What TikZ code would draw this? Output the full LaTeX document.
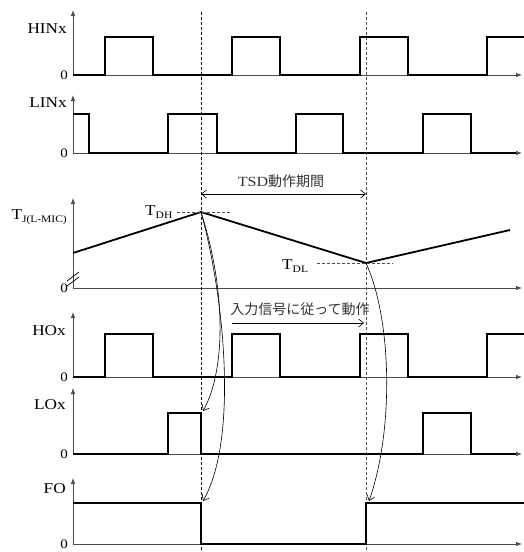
\documentclass[tikz,border=0pt]{standalone}
\usepackage{fontspec}
\setmainfont[FakeStretch=1.15]{Liberation Serif}
\newfontfamily\jpfont{Noto Sans CJK JP}
\usetikzlibrary{arrows.meta}
\begin{document}
\begin{tikzpicture}[x=1pt,y=-1pt,
  axis/.style={line width=0.8pt, black!70, -{Latex[length=6pt,width=4.5pt]}},
  wave/.style={line width=1.8pt, line join=miter},
  vdash/.style={line width=0.7pt, dash pattern=on 3pt off 2pt},
  hdash/.style={line width=0.7pt, black!70, dash pattern=on 3pt off 2pt},
  sig/.style={font=\fontsize{15}{15}\selectfont, anchor=base east, inner sep=0pt},
  zero/.style={font=\fontsize{13}{13}\selectfont, anchor=east, inner sep=0pt},
  note/.style={-{Straight Barb[length=5pt,width=8pt]}, line width=0.6pt},
  jp/.style={font=\fontsize{14}{14}\selectfont, text=black!80, inner sep=0pt},
  lvl/.style={font=\fontsize{15}{15}\selectfont, anchor=base west, inner sep=0pt}
]
\useasboundingbox (0,0) rectangle (524,552);

% ---------- axes ----------
\foreach \yb/\yt in {75/10, 153/95, 288/198, 377/312, 454/388, 544/478}{
  \draw[axis] (73,\yb) -- (73,\yt);
  \draw[axis] (73,\yb) -- (522,\yb);
}

% ---------- labels ----------
\node[sig] (lHIN) at (67,33) {HINx};
\node[sig] (lLIN) at (67,107) {LINx};
\node[sig] (lTJ) at (67,219) {T\raisebox{-3pt}{\fontsize{10}{10}\selectfont J(L-MIC)}};
\node[sig] (lHO) at (66,335) {HOx};
\node[sig] (lLO) at (66,409) {LOx};
\node[sig] (lFO) at (66,493) {FO};

\foreach \yb/\nm in {75/z1, 153/z2, 288/z3, 377/z4, 454/z5, 544/z6}{
  \node[zero] (\nm) at (68,\yb+0.5) {0};
}

% ---------- dashed time markers ----------
\draw[vdash] (201,12) -- (201,551);
\draw[vdash, black!70] (366,12) -- (366,551);

% ---------- waveforms ----------
\draw[wave] (73,75) -- (105,75) -- (105,37) -- (153,37) -- (153,75) -- (232,75) -- (232,37) -- (280,37) -- (280,75)
  -- (360,75) -- (360,37) -- (408,37) -- (408,75) -- (487,75) -- (487,37) -- (524,37);
\draw[wave] (73,114) -- (89,114) -- (89,153) -- (168,153) -- (168,114) -- (217,114) -- (217,153) -- (296,153)
  -- (296,114) -- (343,114) -- (343,153) -- (423,153) -- (423,114) -- (471,114) -- (471,153) -- (516,153);
\draw[wave] (73,377) -- (105,377) -- (105,334) -- (153,334) -- (153,377) -- (232,377) -- (232,334) -- (280,334) -- (280,377)
  -- (360,377) -- (360,334) -- (408,334) -- (408,377) -- (487,377) -- (487,334) -- (524,334);
\draw[wave] (73,454) -- (168,454) -- (168,413) -- (201,413) -- (201,454) -- (423,454) -- (423,413) -- (471,413)
  -- (471,454) -- (516,454);
\draw[wave] (73,503) -- (201,503) -- (201,544) -- (366,544) -- (366,503) -- (524,503);

% ---------- junction temperature ----------
\coordinate (tj0) at (73,253);
\coordinate (pkH) at (201,212);
\coordinate (pkL) at (366,263);
\coordinate (tjE) at (510,230);
\draw[wave] (tj0) -- (pkH) -- (pkL) -- (tjE);

% axis break
\draw[line width=0.7pt] (67,281) -- (79,272);
\draw[line width=0.7pt] (67,286) -- (79,277);

% threshold levels
\draw[hdash] (177,212) -- (232,212);
\draw[hdash] (317,263) -- (393,263);
\node[lvl] (tdh) at (145,215) {T\raisebox{-3pt}{\fontsize{10}{10}\selectfont DH}};
\node[lvl] (tdl) at (282,269) {T\raisebox{-3pt}{\fontsize{10}{10}\selectfont DL}};

% ---------- TSD period ----------
\coordinate (tsdA) at (201,194);
\coordinate (tsdB) at (366,194);
\draw[note, {Straight Barb[length=5pt,width=8pt]}-{Straight Barb[length=5pt,width=8pt]}] (tsdA) -- (tsdB);
\node[jp] (tsdT) at (281,181) {\fontsize{14}{14}\selectfont TSD{\jpfont 動作期間}};

% ---------- follows input ----------
\coordinate (inA) at (232,323);
\coordinate (inB) at (364,323);
\draw[note] (inA) -- (inB);
\node[jp] (inT) at (300,309) {\jpfont 入力信号に従って動作};

% ---------- causal arrows ----------
\coordinate (loH) at (203,411);
\coordinate (foH) at (203,501);
\coordinate (foL) at (369,501);
\draw[note] (pkH) .. controls (226,290) and (226,370) .. (loH);
\draw[note] (pkH) .. controls (225,300) and (238,440) .. (foH);
\draw[note] (pkL) .. controls (392,320) and (394,430) .. (foL);
\end{tikzpicture}
\end{document}
